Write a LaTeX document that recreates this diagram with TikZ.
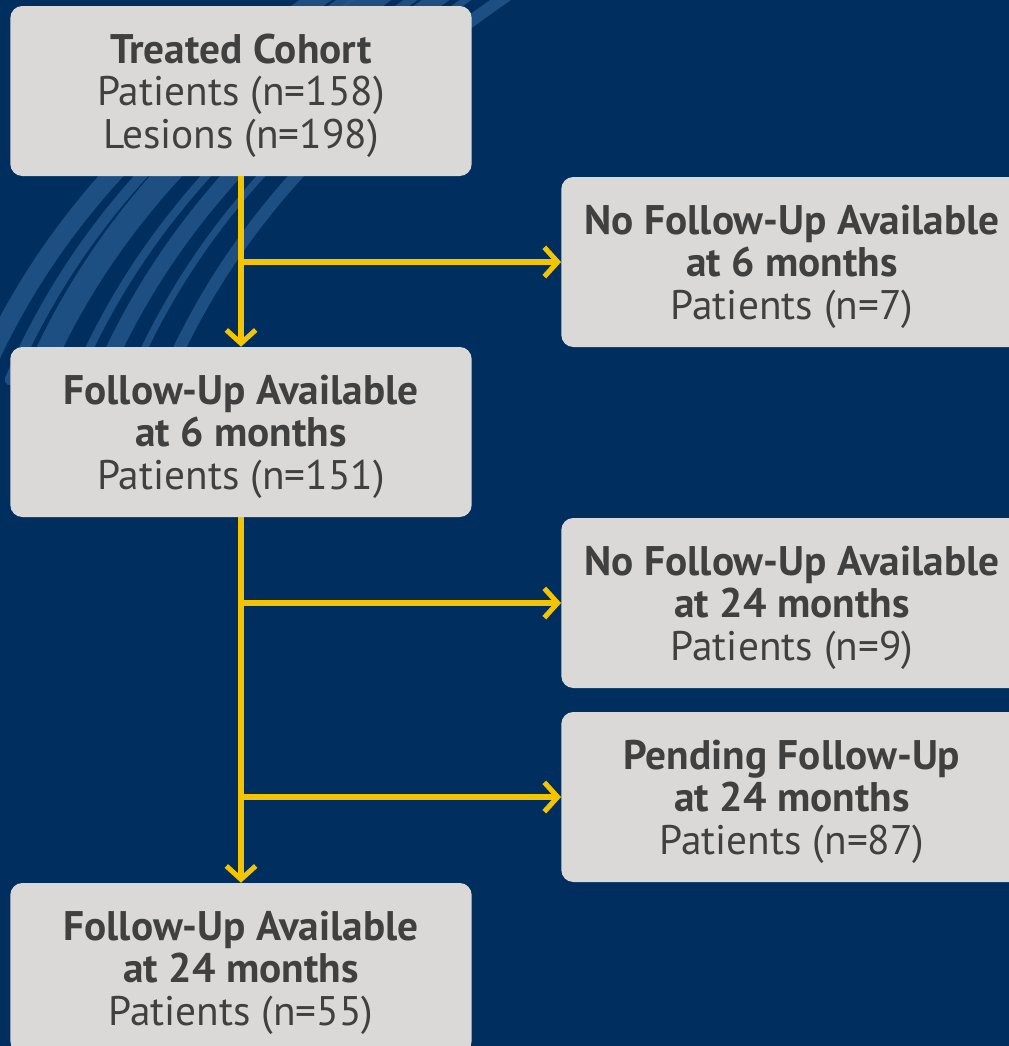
\documentclass[tikz,border=0pt]{standalone}
\usepackage{fontspec}
\setmainfont{PT Sans}
\usepackage{tikz}
\usetikzlibrary{
	positioning,    % posizionamento relativo
	arrows.meta     % punte a chevron
}
\definecolor{navy}{RGB}{0,47,95}
\definecolor{brush}{RGB}{38,88,140}
\definecolor{boxgray}{RGB}{218,217,216}
\definecolor{txtgray}{RGB}{64,64,64}
\definecolor{flowyellow}{RGB}{245,196,0}

\tikzset{
	flowbox/.style={rectangle, rounded corners=9pt, fill=boxgray, text=txtgray,
		minimum width=346pt, minimum height=127.5pt, align=center,
		font=\fontsize{31}{31.8}\selectfont, inner sep=0pt},
	flowarrow/.style={draw=flowyellow, line width=3.8pt,
		-{Straight Barb[length=10pt, width=22pt]}}
}

\begin{document}
\begin{tikzpicture}[x=0.75pt, y=-0.75pt]
		% --- Sfondo ---
		\fill[navy] (0,0) rectangle (1009,1046);
		\useasboundingbox (0,0) rectangle (1009,1046);
		\clip (0,0) rectangle (1009,1046);
		% pennellate in alto a sinistra
		\foreach \dx/\w in {0/14, 30/8, 55/18, 95/6, 120/12, 150/5, 185/9}
			\draw[brush, line width=\w pt, opacity=0.8, line cap=round]
			(-20+\dx, 380) .. controls (40+\dx, 240) and (140+\dx, 120) .. (330+\dx, -10);
		
		% --- Riquadri ---
		\node[flowbox] (cohort) at (241, 91) {\rule{0pt}{29pt}\textbf{Treated Cohort}\\Patients (n=158)\\Lesions (n=198)};
		\node[flowbox] (nofu6) at (792, 262) {\rule{0pt}{29pt}\textbf{No Follow-Up Available}\\\textbf{at 6 months}\\Patients (n=7)};
		\node[flowbox] (fu6) at (241, 432) {\rule{0pt}{29pt}\textbf{Follow-Up Available}\\\textbf{at 6 months}\\Patients (n=151)};
		\node[flowbox] (nofu24) at (792, 603) {\rule{0pt}{29pt}\textbf{No Follow-Up Available}\\\textbf{at 24 months}\\Patients (n=9)};
		\node[flowbox] (pend24) at (792, 797) {\rule{0pt}{29pt}\textbf{Pending Follow-Up}\\\textbf{at 24 months}\\Patients (n=87)};
		\node[flowbox] (fu24) at (241, 968) {\rule{0pt}{29pt}\textbf{Follow-Up Available}\\\textbf{at 24 months}\\Patients (n=55)};
		
		% --- Frecce ---
		\coordinate (split1) at (cohort.south |- nofu6.west);
		\coordinate (split2) at (fu6.south |- nofu24.west);
		\coordinate (split3) at (fu6.south |- pend24.west);
		\draw[flowarrow] (cohort.south) -- (fu6.north);
		\draw[flowarrow] (split1) -- (nofu6.west);
		\draw[flowarrow] (fu6.south) -- (fu24.north);
		\draw[flowarrow] (split2) -- (nofu24.west);
		\draw[flowarrow] (split3) -- (pend24.west);
	\end{tikzpicture}
\end{document}
